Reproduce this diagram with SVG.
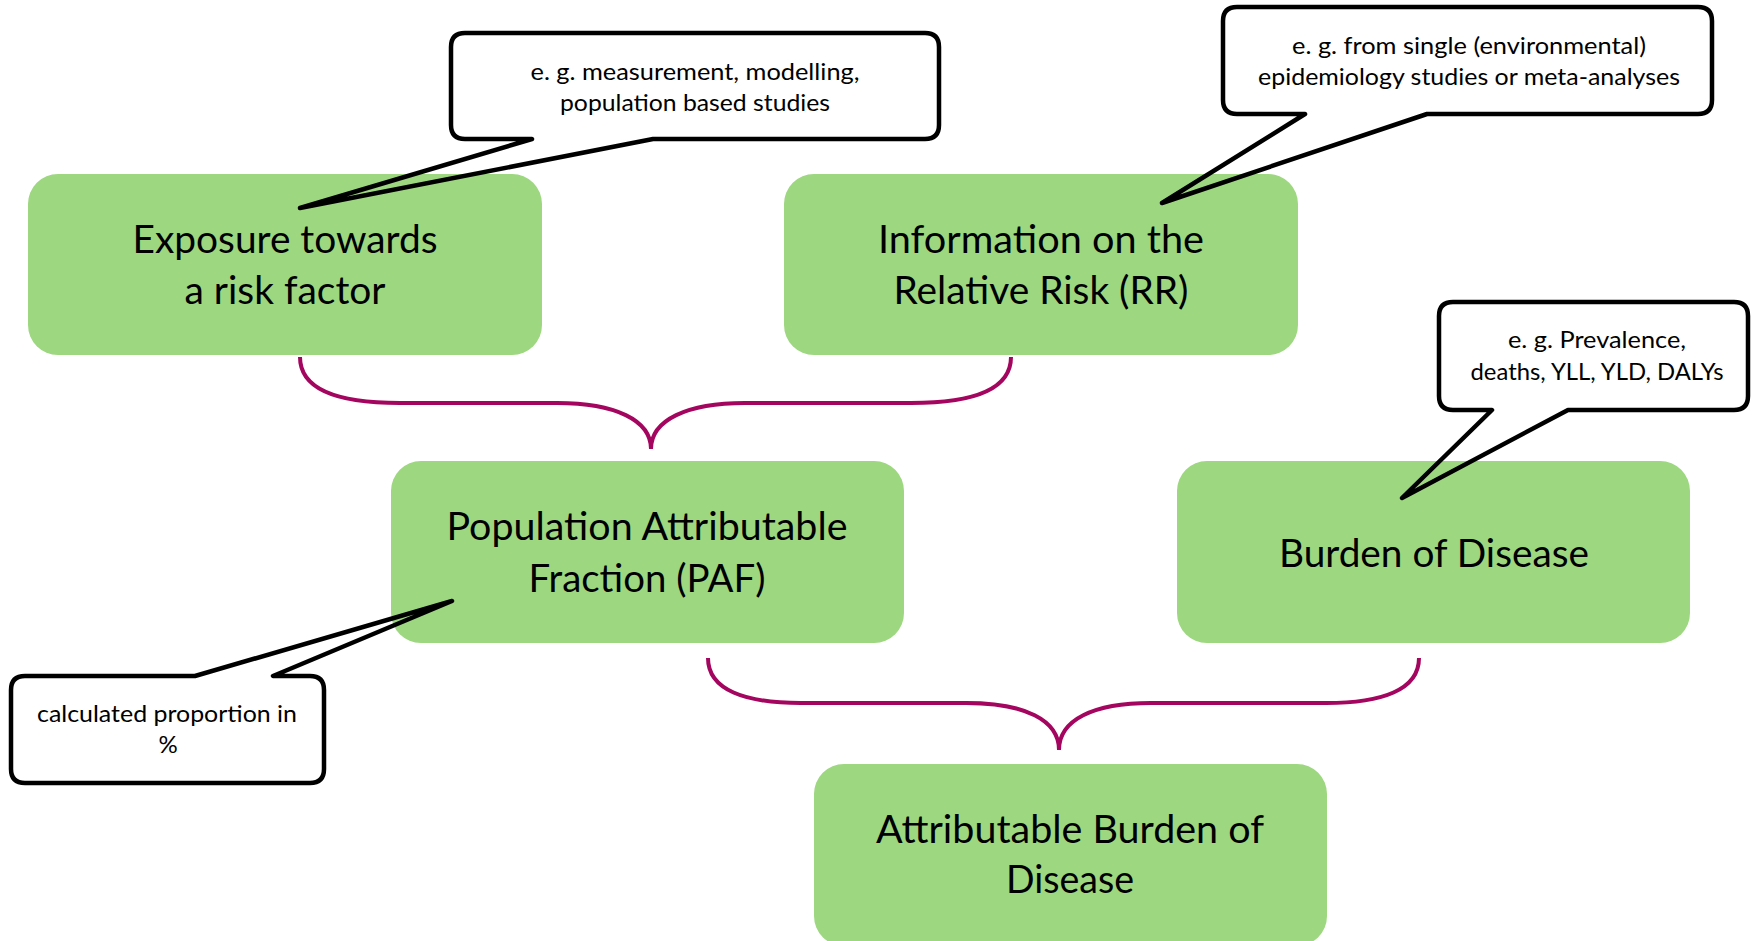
<svg xmlns="http://www.w3.org/2000/svg" width="1756" height="941" viewBox="0 0 1756 941">
<style>
.box{fill:#9dd780;}
.main{font-family:Lato,"Open Sans","Noto Sans",sans-serif;font-size:38px;fill:#000;text-anchor:middle;}
.note{font-family:Lato,"Open Sans","Noto Sans",sans-serif;font-size:24px;fill:#000;text-anchor:middle;}
.callout{fill:none;stroke:#000;stroke-width:4.5;stroke-linejoin:round;stroke-linecap:round;}
.brace{fill:none;stroke:#a3055f;stroke-width:4;}
</style>
<rect width="1756" height="941" fill="#fff"/>
<g id="node-exposure">
<rect class="box" x="28" y="174" width="514" height="181" rx="30"/>
<text class="main" x="285" y="253" textLength="305" lengthAdjust="spacingAndGlyphs">Exposure towards</text>
<text class="main" x="285" y="304" textLength="201" lengthAdjust="spacingAndGlyphs">a risk factor</text>
</g>
<g id="node-rr">
<rect class="box" x="784" y="174" width="514" height="181" rx="30"/>
<text class="main" x="1041" y="253" textLength="326" lengthAdjust="spacingAndGlyphs">Information on the</text>
<text class="main" x="1041" y="304" textLength="295" lengthAdjust="spacingAndGlyphs">Relative Risk (RR)</text>
</g>
<g id="node-paf">
<rect class="box" x="391" y="461" width="513" height="182" rx="30"/>
<text class="main" x="647" y="540" textLength="401" lengthAdjust="spacingAndGlyphs">Population Attributable</text>
<text class="main" x="647" y="592" textLength="237" lengthAdjust="spacingAndGlyphs">Fraction (PAF)</text>
</g>
<g id="node-bod">
<rect class="box" x="1177" y="461" width="513" height="182" rx="30"/>
<text class="main" x="1434" y="567" textLength="310" lengthAdjust="spacingAndGlyphs">Burden of Disease</text>
</g>
<g id="node-abod">
<rect class="box" x="814" y="764" width="513" height="182" rx="30"/>
<text class="main" x="1070" y="843" textLength="388" lengthAdjust="spacingAndGlyphs">Attributable Burden of</text>
<text class="main" x="1070" y="893" textLength="128" lengthAdjust="spacingAndGlyphs">Disease</text>
</g>
<g id="callout-exposure">
<path class="callout" d="M465,33 H925 Q939,33 939,47 V125 Q939,139 925,139 H653 L300,208 L532,139 H465 Q451,139 451,125 V47 Q451,33 465,33 Z"/>
<text class="note" x="695" y="80" textLength="329" lengthAdjust="spacingAndGlyphs">e. g. measurement, modelling,</text>
<text class="note" x="695" y="111" textLength="270" lengthAdjust="spacingAndGlyphs">population based studies</text>
</g>
<g id="callout-rr">
<path class="callout" d="M1237,7 H1698 Q1712,7 1712,21 V100 Q1712,114 1698,114 H1427 L1162,203 L1305,114 H1237 Q1223,114 1223,100 V21 Q1223,7 1237,7 Z"/>
<text class="note" x="1469" y="54" textLength="354" lengthAdjust="spacingAndGlyphs">e. g. from single (environmental)</text>
<text class="note" x="1469" y="85" textLength="422" lengthAdjust="spacingAndGlyphs">epidemiology studies or meta-analyses</text>
</g>
<g id="callout-bod">
<path class="callout" d="M1453,302 H1734 Q1748,302 1748,316 V396 Q1748,410 1734,410 H1568 L1402,498 L1492,410 H1453 Q1439,410 1439,396 V316 Q1439,302 1453,302 Z"/>
<text class="note" x="1597" y="348" textLength="178" lengthAdjust="spacingAndGlyphs">e. g. Prevalence,</text>
<text class="note" x="1597" y="380" textLength="253" lengthAdjust="spacingAndGlyphs">deaths, YLL, YLD, DALYs</text>
</g>
<g id="callout-paf">
<path class="callout" d="M25,676 H195 L452,601 L273,676 H310 Q324,676 324,690 V769 Q324,783 310,783 H25 Q11,783 11,769 V690 Q11,676 25,676 Z"/>
<text class="note" x="167" y="722" textLength="260" lengthAdjust="spacingAndGlyphs">calculated proportion in</text>
<text class="note" x="168" y="753">%</text>
</g>
<g id="connectors">
<path class="brace" d="M300,357 C300,390 340,403 400,403 H557 C615,403 651,420 651,449 C651,420 687,403 745,403 H911 C971,403 1011,390 1011,357"/>
<path class="brace" d="M708,658 C708,690 745,703 801,703 H966 C1025,703 1059,720 1059,750 C1059,720 1093,703 1151,703 H1326 C1382,703 1419,690 1419,658"/>
</g>
</svg>
